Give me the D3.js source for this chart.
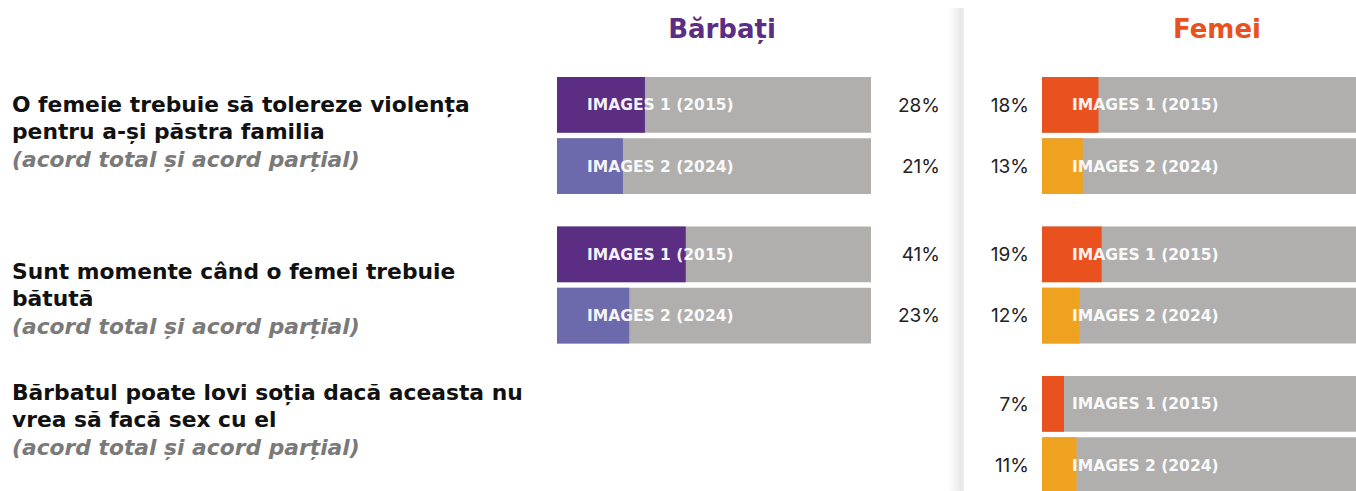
<!DOCTYPE html>
<html>
<head>
<meta charset="utf-8">
<script src="https://cdn.jsdelivr.net/npm/d3@7"></script>
<style>
  body { margin: 0; background: #fff; }
  svg { display: block; font-family: "DejaVu Sans", sans-serif; }
</style>
</head>
<body>
<div id="chart"></div>
<script>
// Data
const questions = [
  ["O femeie trebuie să tolereze violența", "pentru a-și păstra familia"],
  ["Sunt momente când o femei trebuie", "bătută"],
  ["Bărbatul poate lovi soția dacă aceasta nu", "vrea să facă sex cu el"]
];
const subtitle = "(acord total și acord parțial)";
const waves = ["IMAGES 1 (2015)", "IMAGES 2 (2024)"];
const menValues = [[28, 21], [41, 23], [null, null]];
const womenValues = [[18, 13], [19, 12], [7, 11]];

const width = 1356, height = 491;
const svg = d3.select("#chart").append("svg")
  .attr("width", width)
  .attr("height", height);

// divider shadow
const defs = svg.append("defs");
const grad = defs.append("linearGradient").attr("id", "shadow")
  .attr("x1", "0%").attr("x2", "100%");
grad.append("stop").attr("offset", "0%").attr("stop-color", "#fff");
grad.append("stop").attr("offset", "100%").attr("stop-color", "#e6e6e6");
svg.append("rect").attr("x", 948).attr("y", 8).attr("width", 15).attr("height", height - 8)
  .attr("fill", "url(#shadow)");
svg.append("rect").attr("x", 962).attr("y", 8).attr("width", 2).attr("height", height - 8)
  .attr("fill", "#ededed");

// scales
const barW = 314;
const x = d3.scaleLinear().domain([0, 100]).range([0, barW]);
const groupY = d3.scaleBand().domain(d3.range(questions.length)).range([77, 77 + 3 * 149.5]);
const innerY = d3.scaleBand().domain(d3.range(waves.length)).range([0, 117]).paddingInner(0.09);

const panels = [
  { key: "men", title: "Bărbați", titleX: 722, x0: 557, values: menValues,
    colors: ["#5b2d83", "#6c69ad"], pctX: 940, anchor: "end" },
  { key: "women", title: "Femei", titleX: 1217, x0: 1042, values: womenValues,
    colors: ["#e9521f", "#efa21f"], pctX: 1029, anchor: "end" }
];

panels.forEach(p => {
  svg.append("text")
    .attr("x", p.titleX).attr("y", 38)
    .attr("text-anchor", "middle")
    .attr("font-size", 26).attr("font-weight", 700)
    .attr("fill", p.colors[0])
    .text(p.title);

  p.values.forEach((vals, qi) => {
    const g = svg.append("g")
      .attr("transform", `translate(${p.x0},${groupY(qi)})`);
    const rows = vals.map((v, wi) => ({ v, wi })).filter(d => d.v !== null);

    const row = g.selectAll("g.row").data(rows).enter().append("g")
      .attr("class", "row")
      .attr("transform", d => `translate(0,${innerY(d.wi)})`);

    row.append("rect")
      .attr("width", x(100)).attr("height", innerY.bandwidth())
      .attr("fill", "#b0afae");
    row.append("rect")
      .attr("width", d => x(d.v)).attr("height", innerY.bandwidth())
      .attr("fill", d => p.colors[d.wi]);
    row.append("text")
      .attr("x", 30).attr("y", innerY.bandwidth() / 2)
      .attr("dy", "0.36em")
      .attr("font-size", 15.5).attr("font-weight", 700)
      .attr("fill", "#fff").attr("opacity", 0.93)
      .text(d => waves[d.wi]);
    row.append("text")
      .attr("x", p.pctX - p.x0).attr("y", innerY.bandwidth() / 2)
      .attr("dy", "0.36em")
      .attr("text-anchor", p.anchor)
      .attr("font-family", "Inter, sans-serif")
      .attr("font-size", 19).attr("font-weight", 400)
      .attr("fill", "#222")
      .text(d => d.v + "%");
  });
});

// question labels
const qTop = [112, 279, 400];
questions.forEach((lines, qi) => {
  const t = svg.append("text").attr("x", 12).attr("y", qTop[qi])
    .attr("font-size", 21.8).attr("font-weight", 700).attr("fill", "#111");
  lines.forEach((l, li) => {
    t.append("tspan").attr("x", 12).attr("dy", li === 0 ? 0 : 27).text(l);
  });
  t.append("tspan").attr("x", 12).attr("dy", 28)
    .attr("font-style", "italic").attr("fill", "#7a7a7a")
    .text(subtitle);
});
</script>
</body>
</html>
